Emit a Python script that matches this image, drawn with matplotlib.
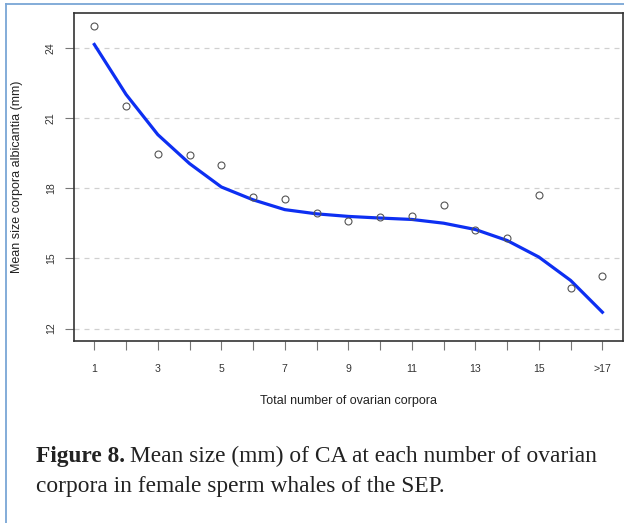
import matplotlib
matplotlib.use("Agg")
import matplotlib.pyplot as plt
from matplotlib.lines import Line2D

# corpora count (17 stands for ">17")
n_corpora = list(range(1, 18))
tick_pos = [1, 3, 5, 7, 9, 11, 13, 15, 17]
tick_labels = ["1", "3", "5", "7", "9", "11", "13", "15", ">17"]

# observed mean CA size (mm)
mean_size = [24.93, 21.53, 19.47, 19.41, 19.00, 17.63, 17.56, 16.94, 16.61,
             16.79, 16.83, 17.28, 16.23, 15.86, 17.71, 13.74, 14.24]
# fitted smooth curve
fitted = [24.16, 22.02, 20.30, 19.06, 18.06, 17.51, 17.09, 16.91, 16.80,
          16.73, 16.67, 16.51, 16.24, 15.77, 15.06, 14.06, 12.70]

W, H = 624, 523
fig = plt.figure(figsize=(W / 100, H / 100), dpi=100)
plt.rcParams['font.family'] = ['Liberation Sans', 'DejaVu Sans']

ax = fig.add_axes([74 / W, 1 - 340.7 / H, (622.7 - 74) / W, (340.7 - 12.7) / H])

for y in [12, 15, 18, 21, 24]:
    ax.axhline(y, color='#d0d0d0', lw=0.9, ls=(0, (4, 4)), zorder=1)

ax.plot(n_corpora, fitted, color='#0d2ff2', lw=2.3, zorder=2)
ax.plot(n_corpora, mean_size, 'o', mfc='none', mec='#555555', mew=0.8, ms=5, zorder=3)

ax.set_xlim(0.36, 17.64)
ax.set_ylim(11.48, 25.52)

ax.set_xticks(n_corpora)
ax.set_xticklabels(["" if x not in tick_pos else tick_labels[tick_pos.index(x)] for x in n_corpora])
ax.set_yticks([12, 15, 18, 21, 24])
ax.set_yticklabels(["12", "15", "18", "21", "24"], rotation=90, va='center')
ax.tick_params(axis='both', length=6.5, width=0.8, color='#777777',
               labelsize=7.6, labelcolor='#333333', direction='out')
ax.tick_params(axis='x', pad=10.5)
ax.tick_params(axis='y', pad=6.5)

for s in ax.spines.values():
    s.set_color('#333333')
    s.set_linewidth(1.2)

fig.text(348 / W, 1 - 401 / H, "Total number of ovarian corpora", ha='center', va='center',
         fontsize=9, color='#222222')
fig.text(17.5 / W, 1 - 177 / H, "Mean size corpora albicantia (mm)", ha='center', va='center',
         rotation=90, fontsize=9, color='#222222')

# blue frame (left and top edges)
fig.add_artist(Line2D([5.5 / W, 5.5 / W], [0, 1 - 3.5 / H], color='#7aa6d6', lw=1.3))
fig.add_artist(Line2D([5.5 / W, 1], [1 - 3.5 / H, 1 - 3.5 / H], color='#7aa6d6', lw=1.3))

# caption
cap_x = 36 / W
cap_size = 16.8
t1 = fig.text(cap_x, 1 - 462 / H, "Figure 8.", fontsize=cap_size, fontweight='bold',
              family='Liberation Serif', color='#222222', va='baseline')
fig.canvas.draw()
bb = t1.get_window_extent()
fig.text((bb.x1 + 5) / W, 1 - 462 / H, "Mean size (mm) of CA at each number of ovarian",
         fontsize=cap_size, family='Liberation Serif', color='#222222', va='baseline')
fig.text(cap_x, 1 - 492 / H, "corpora in female sperm whales of the SEP.",
         fontsize=cap_size, family='Liberation Serif', color='#222222', va='baseline')

fig.savefig("out.png", dpi=100)
